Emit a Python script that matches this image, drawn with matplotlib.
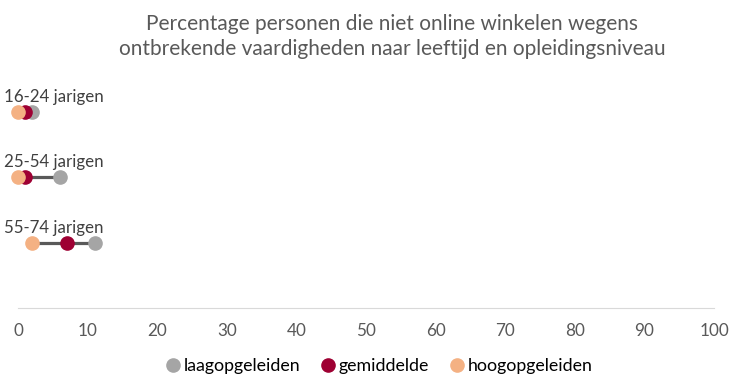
import matplotlib
matplotlib.use("Agg")
import matplotlib.pyplot as plt

# data
groepen = ['16-24 jarigen', '25-54 jarigen', '55-74 jarigen']
laag = [2, 6, 11]
gemiddeld = [1, 1, 7]
hoog = [0, 0, 2]

plt.rcParams['font.family'] = ['Lato', 'DejaVu Sans']
tekst = '#595959'

fig = plt.figure(figsize=(7.42, 3.81), dpi=100)
ax = fig.add_axes([18/742, 1-308/381, (714-18)/742, (308-79)/381])

ypos = [3, 2, 1]
for i in range(len(groepen)):
    y = ypos[i]
    lo = min(laag[i], gemiddeld[i], hoog[i])
    hi = max(laag[i], gemiddeld[i], hoog[i])
    ax.plot([lo, hi], [y, y], color='#595959', lw=2.3, zorder=1)
    ax.text(-2, y + 0.23, groepen[i], ha='left', va='center', fontsize=12.2,
            color='#404040', clip_on=False)

ax.plot(laag, ypos, 'o', color='#A5A5A5', ms=9.5, label='laagopgeleiden', zorder=2, clip_on=False)
ax.plot(gemiddeld, ypos, 'o', color='#9E0033', ms=9.5, label='gemiddelde', zorder=3, clip_on=False)
ax.plot(hoog, ypos, 'o', color='#F4B183', ms=9.5, label='hoogopgeleiden', zorder=4, clip_on=False)

ax.set_xlim(0, 100)
ax.set_ylim(0, 3.5)
ax.set_xticks(range(0, 101, 10))
ax.set_yticks([])
for s in ['top', 'right', 'left']:
    ax.spines[s].set_visible(False)
ax.spines['bottom'].set_color('#D9D9D9')
ax.tick_params(axis='x', length=0, labelsize=12.3, labelcolor=tekst, pad=11)

fig.suptitle('Percentage personen die niet online winkelen wegens\n'
             'ontbrekende vaardigheden naar leeftijd en opleidingsniveau',
             x=392/742, y=0.962, fontsize=15, color=tekst, linespacing=1.3)

fig.legend(loc='center', bbox_to_anchor=(380/742, 1-366/381), ncol=3, frameon=False,
           fontsize=12.8, handlelength=0.6, handletextpad=0.3, columnspacing=1.25,
           labelcolor='#000000')

fig.savefig('out.png', dpi=100)
